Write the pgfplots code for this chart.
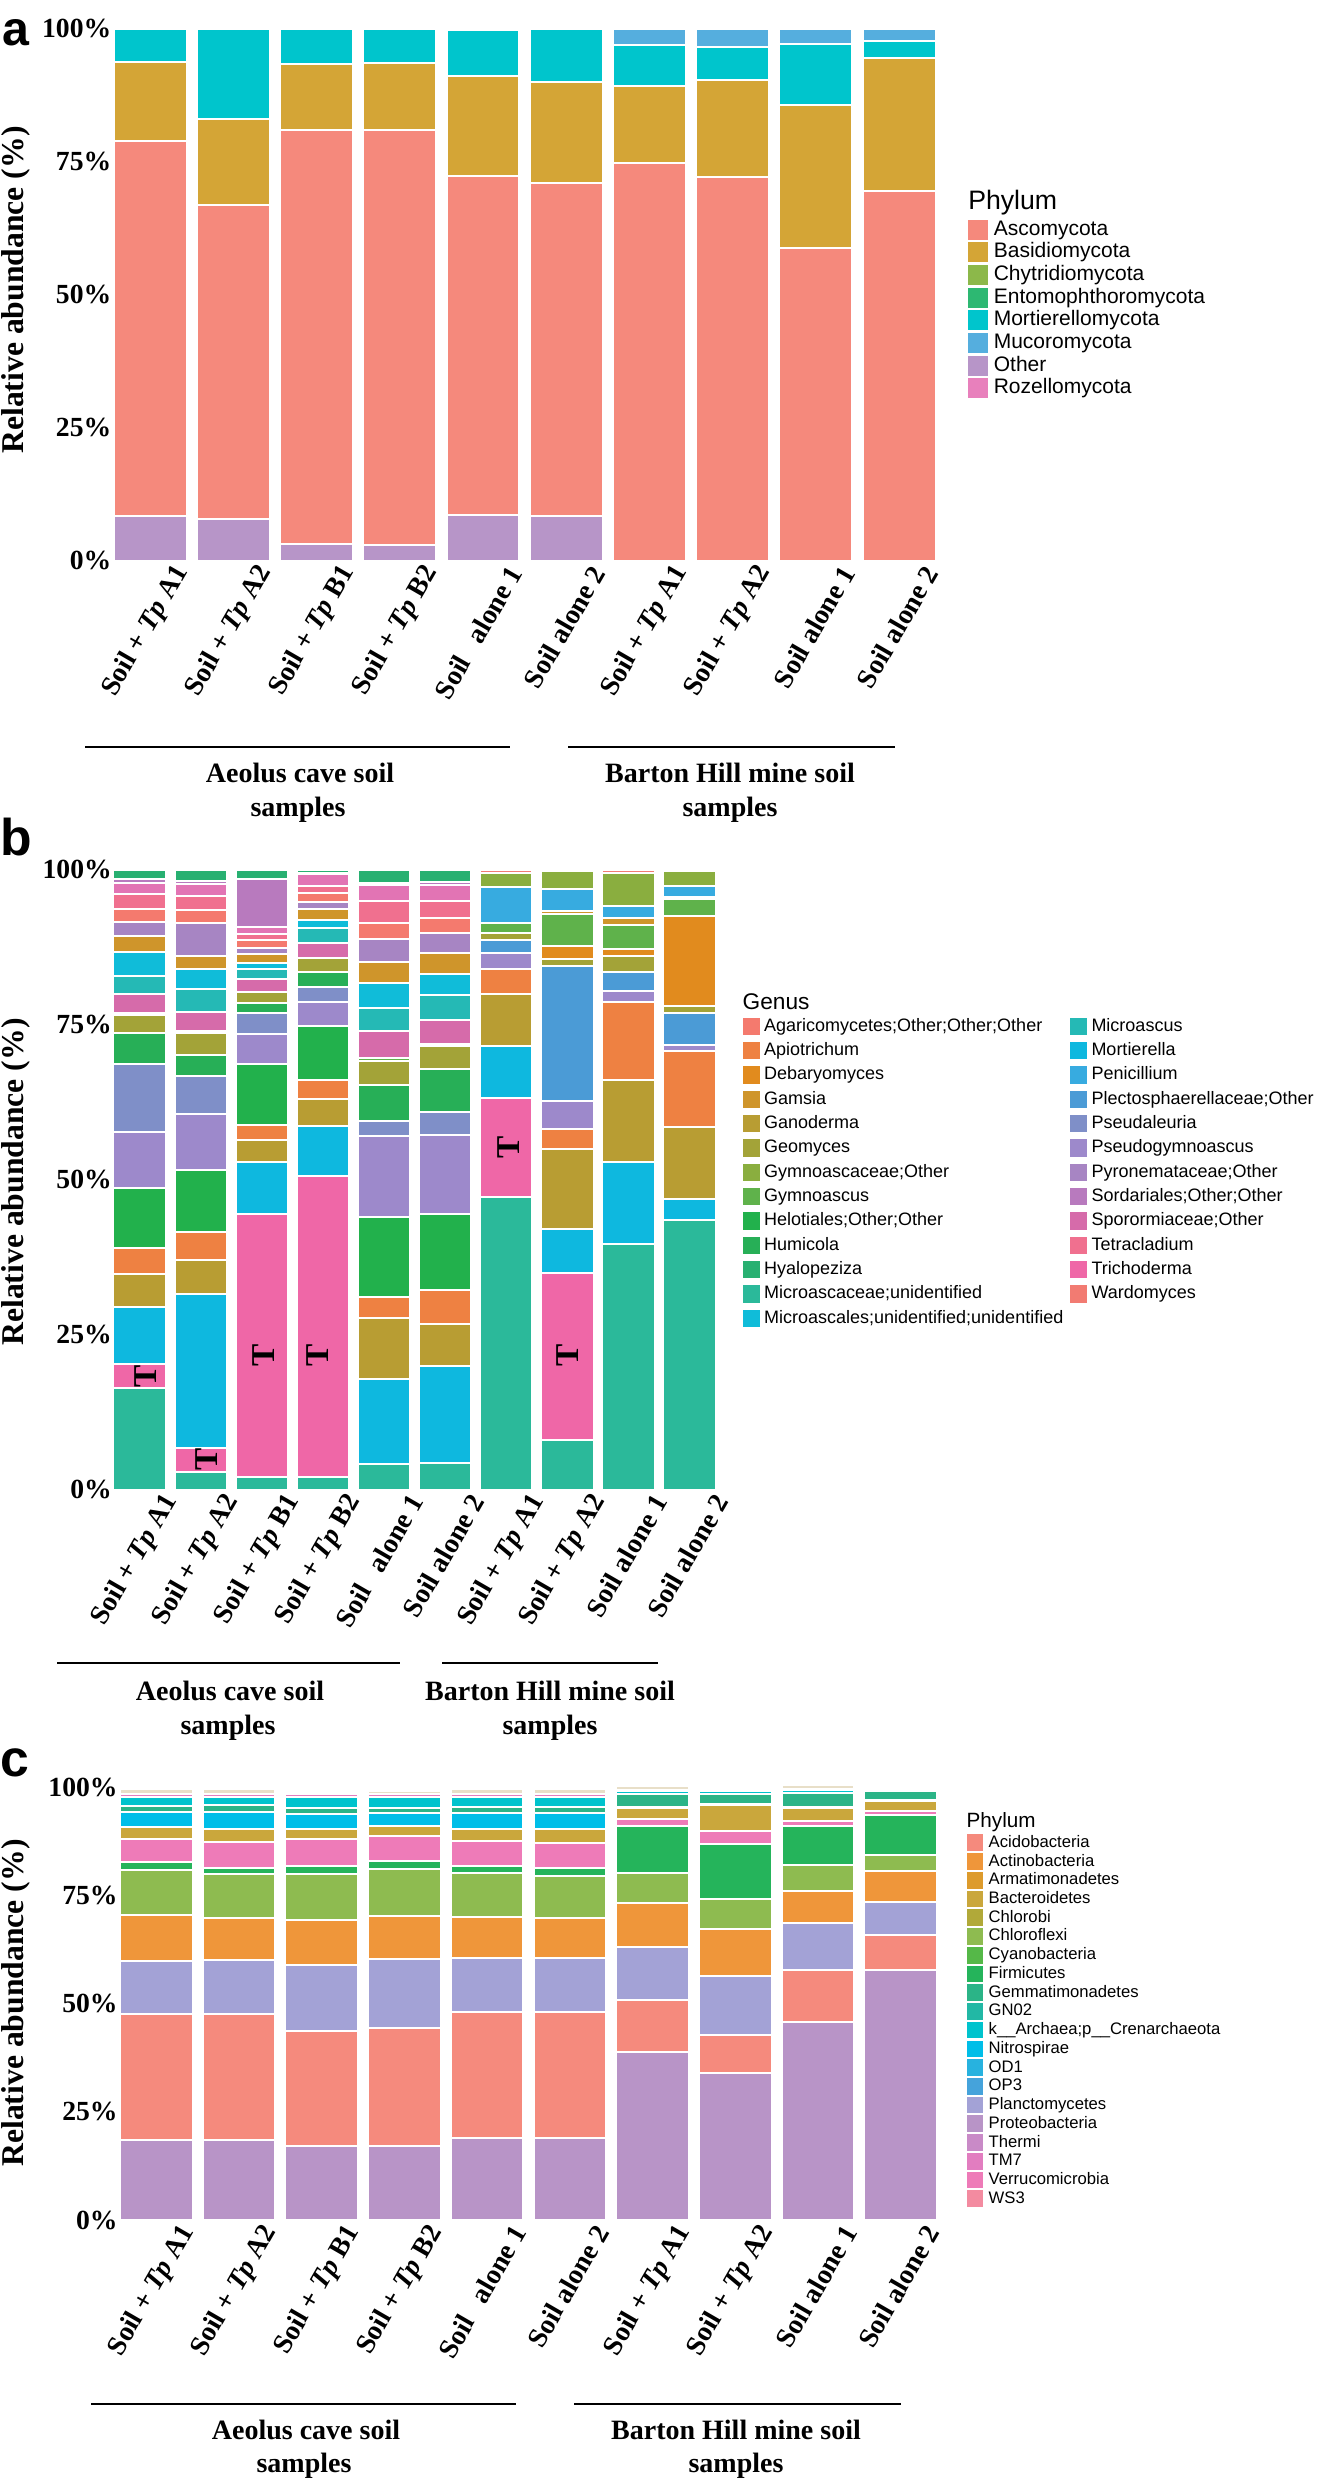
\documentclass[border=0pt]{standalone}
\usepackage{pgfplots}
\pgfplotsset{compat=1.18}
\usepackage{pgfplotstable}
\usepackage{fontspec}
\setmainfont{Liberation Serif}
\newfontfamily\sansf{Liberation Sans}

% panel a colours
\definecolor{aAsc}{HTML}{F5897C}
\definecolor{aBas}{HTML}{D4A536}
\definecolor{aChy}{HTML}{8CB84A}
\definecolor{aEnt}{HTML}{2DB872}
\definecolor{aMor}{HTML}{00C5CC}
\definecolor{aMuc}{HTML}{55AEDE}
\definecolor{aOth}{HTML}{B795C8}
\definecolor{aRoz}{HTML}{E880BC}
% panel b colours (stack order, bottom to top)
\definecolor{bc1}{HTML}{2BB99A}
\definecolor{bc2}{HTML}{EF67A7}
\definecolor{bc3}{HTML}{0EB8DF}
\definecolor{bc4}{HTML}{B89D33}
\definecolor{bc5}{HTML}{EE8142}
\definecolor{bc6}{HTML}{22B14C}
\definecolor{bc7}{HTML}{9D89CB}
\definecolor{bc8}{HTML}{4B9BD6}
\definecolor{bc9}{HTML}{7F8FC8}
\definecolor{bc10}{HTML}{27AF57}
\definecolor{bc11}{HTML}{A3A338}
\definecolor{bc12}{HTML}{E18B1E}
\definecolor{bc13}{HTML}{5FB24B}
\definecolor{bc14}{HTML}{D66BAA}
\definecolor{bc15}{HTML}{25B9B5}
\definecolor{bc16}{HTML}{10BCD9}
\definecolor{bc17}{HTML}{CF952B}
\definecolor{bc18}{HTML}{37ABE0}
\definecolor{bc19}{HTML}{A785C3}
\definecolor{bc20}{HTML}{F47A6E}
\definecolor{bc21}{HTML}{F0708F}
\definecolor{bc22}{HTML}{E274B4}
\definecolor{bc23}{HTML}{B87ABE}
\definecolor{bc24}{HTML}{8AAE3F}
\definecolor{bc25}{HTML}{28B071}
\definecolor{bc26}{HTML}{F27B72}
% panel c colours
\definecolor{cAcido}{HTML}{F58A7D}
\definecolor{cActino}{HTML}{EF963A}
\definecolor{cArma}{HTML}{DD9B2C}
\definecolor{cBacte}{HTML}{CAA73C}
\definecolor{cChlorobi}{HTML}{B1A939}
\definecolor{cChloro}{HTML}{8EBB50}
\definecolor{cCyano}{HTML}{55B848}
\definecolor{cFirmi}{HTML}{25B45B}
\definecolor{cGemma}{HTML}{2BB487}
\definecolor{cGN}{HTML}{22B8A5}
\definecolor{cArch}{HTML}{00C3CD}
\definecolor{cNitro}{HTML}{00BEE8}
\definecolor{cOD}{HTML}{27B2DF}
\definecolor{cOP}{HTML}{45A3DB}
\definecolor{cPlanc}{HTML}{A3A2D6}
\definecolor{cProteo}{HTML}{B894C7}
\definecolor{cThermi}{HTML}{C98AC7}
\definecolor{cTM}{HTML}{E27DC0}
\definecolor{cVerru}{HTML}{EE7BB8}
\definecolor{cWS}{HTML}{F38BA0}
\definecolor{cPale}{HTML}{E8DFC8}

% ---------- data ----------
% panel a: Other, Ascomycota, Basidiomycota, Mortierellomycota, Mucoromycota
\pgfplotstableread{
x Oth Asc Bas Mor Muc
0 8.4 70.5 14.8 6.3 0
1 7.9 58.9 16.2 17.0 0
2 3.2 77.8 12.3 6.7 0
3 2.9 78.0 12.7 6.4 0
4 8.6 63.7 18.9 8.6 0
5 8.3 62.7 19.0 9.9 0
6 0 74.8 14.5 7.7 3.0
7 0 72.1 18.3 6.1 3.5
8 0 58.8 26.9 11.5 2.8
9 0 69.4 25.0 3.3 2.3
}\tabA

% panel b: genera, stacked bottom to top
\pgfplotstableread{
x s1 s2 s3 s4 s5 s6 s7 s8 s9 s10 s11 s12 s13 s14 s15 s16 s17 s18 s19 s20 s21 s22 s23 s24 s25 s26
0 16.4 3.8 9.2 5.4 4.1 9.8 9.0 0 11.0 5.0 2.8 0 0.3 3.2 2.9 3.8 2.6 0 2.2 2.1 2.5 1.7 0.6 0 1.5 0
1 2.9 3.8 24.9 5.5 4.4 10.1 9.0 0 6.1 3.4 3.5 0 0.3 3.1 3.7 3.2 2.2 0 5.3 2.1 2.3 1.9 0.5 0 1.7 0
2 2.0 42.4 8.5 3.4 2.5 9.8 4.8 0 3.5 1.5 1.9 0 0 2.0 1.6 1.0 1.4 0 1.0 1.3 1.0 1.1 7.8 0 1.4 0
3 2.0 48.5 8.1 4.4 3.0 8.7 4.0 0 2.4 2.4 2.2 0 0 2.5 2.4 1.2 1.8 0 1.2 1.4 1.1 1.9 0.3 0 0.4 0
4 4.1 0 13.8 9.8 3.4 12.9 13.0 0 2.5 5.8 3.8 0 0.5 4.3 3.8 4.0 3.4 0 3.7 2.6 3.5 2.6 0.4 0 2.0 0
5 4.3 0 15.7 6.7 5.5 12.2 12.8 0 3.7 6.9 3.8 0 0.3 3.9 4.0 3.3 3.5 0 3.2 2.4 2.8 2.5 0.5 0 1.9 0
6 47.1 16.0 8.4 8.4 4.1 0 2.5 2.2 0 0 1.1 0 1.6 0 0 0 0 5.8 0 0 0 0 0 2.2 0 0.5
7 8.0 27.0 7.1 12.9 3.2 0 4.4 21.8 0 0 1.2 2.1 5.1 0 0 0 0.5 3.6 0 0 0 0 0 2.8 0 0
8 39.6 0 13.2 13.3 12.5 0 1.8 3.1 0 0 2.6 1.1 3.8 0 0 0 1.1 2.0 0 0 0 0 0 5.3 0 0.5
9 43.5 0 3.4 11.6 12.2 0 1.0 5.1 0 0 1.2 14.5 2.7 0 0 0 0.4 1.7 0 0 0 0 0 2.4 0 0
}\tabB

% panel c: Proteo, Acido, Planc, Actino, Chloroflexi, Firmicutes, Verruco, Bacteroidetes, Nitrospirae, Gemmati, Archaea, TM7, minor
\pgfplotstableread{
x c1 c2 c3 c4 c5 c6 c7 c8 c9 c10 c11 c12 c13
0 18.5 29.0 12.3 10.7 10.3 1.8 5.3 2.8 3.6 1.4 2.0 0.6 1.2
1 18.5 29.0 12.5 9.7 10.2 1.5 5.9 3.1 3.9 1.5 1.9 0.6 1.2
2 17.0 26.7 15.2 10.4 10.6 1.9 6.1 2.5 3.3 1.4 2.6 0.6 0.6
3 17.0 27.3 15.9 10.1 10.8 1.8 5.7 2.5 2.8 1.3 2.5 0.7 0.7
4 19.0 29.1 12.5 9.3 10.3 1.6 5.7 2.9 3.7 1.4 2.1 0.7 1.2
5 19.0 29.1 12.5 9.1 9.8 1.7 5.9 3.1 3.7 1.6 2.1 0.7 1.2
6 38.9 11.9 12.2 10.3 6.8 11.0 1.6 2.4 0.2 3.0 0.7 0.3 1.0
7 33.9 8.9 13.6 10.9 6.8 12.8 2.9 6.0 0.2 2.5 0.6 0.4 0.5
8 45.8 11.9 10.9 7.5 5.9 8.9 1.3 3.0 0.2 3.2 0.6 0.4 0.8
9 57.7 8.2 7.6 7.0 3.8 9.3 0.9 2.2 0.2 2.2 0.4 0.2 0.1
}\tabC

\pgfplotsset{
  seg/.style={draw=white, line width=0.6pt},
  common/.style={
    scale only axis, ybar stacked, clip=false,
    xmin=-0.5, xmax=9.5, ymin=0, ymax=100,
    axis line style={draw=none}, major tick length=0pt, tick style={draw=none},
    ytick={0,25,50,75,100}, yticklabels={0\%,25\%,50\%,75\%,100\%},
    yticklabel style={font=\bfseries\fontsize{8.3}{9}\selectfont, inner sep=0pt, anchor=east, xshift=1pt},
    xtick={0,...,9},
    xticklabels={Soil + \textit{Tp} A1, Soil + \textit{Tp} A2, Soil + \textit{Tp} B1, Soil + \textit{Tp} B2, Soil\hspace{0.7em}alone 1, Soil alone 2, Soil + \textit{Tp} A1, Soil + \textit{Tp} A2, Soil alone 1, Soil alone 2},
    xticklabel style={font=\bfseries\fontsize{8.3}{10}\selectfont, rotate=60, anchor=east, inner sep=0pt, xshift=3pt, yshift=-9.5pt},
    legend cell align=left,
  },
}

\begin{document}
\begin{tikzpicture}
\path[use as bounding box] (0pt,0pt) rectangle (396.9pt,-744.3pt);

% ================= panel a =================
\begin{axis}[common, at={(32.58pt,-8.61pt)}, anchor=north west,
  width=249.6pt, height=159.57pt, bar width=0.877,
  legend image code/.code={\fill[#1,draw=none] (0pt,-3pt) rectangle (6pt,3pt);},
  legend style={at={(1.0325,0.643)}, anchor=north west, draw=none, fill=none,
    inner sep=0pt, row sep=0.6pt, column sep=1.65pt,
    font=\sansf\fontsize{6.3}{7}\selectfont,
    nodes={inner sep=0pt, text height=4.8pt, text depth=1.4pt}},
]
\addlegendimage{fill=aAsc}\addlegendentry{Ascomycota}
\addlegendimage{fill=aBas}\addlegendentry{Basidiomycota}
\addlegendimage{fill=aChy}\addlegendentry{Chytridiomycota}
\addlegendimage{fill=aEnt}\addlegendentry{Entomophthoromycota}
\addlegendimage{fill=aMor}\addlegendentry{Mortierellomycota}
\addlegendimage{fill=aMuc}\addlegendentry{Mucoromycota}
\addlegendimage{fill=aOth}\addlegendentry{Other}
\addlegendimage{fill=aRoz}\addlegendentry{Rozellomycota}
\addplot[seg, fill=aOth] table[x=x,y=Oth]{\tabA};
\addplot[seg, fill=aAsc] table[x=x,y=Asc]{\tabA};
\addplot[seg, fill=aBas] table[x=x,y=Bas]{\tabA};
\addplot[seg, fill=aMor] table[x=x,y=Mor]{\tabA};
\addplot[seg, fill=aMuc] table[x=x,y=Muc]{\tabA};
\end{axis}

% ================= panel b =================
\begin{axis}[common, at={(32.73pt,-260.85pt)}, anchor=north west,
  width=183.3pt, height=186pt, bar width=0.856,
  legend columns=2,
  legend image code/.code={\fill[#1,draw=none] (0pt,-2.6pt) rectangle (5.1pt,2.6pt);},
  legend style={at={(1.0358,0.762)}, anchor=north west, draw=none, fill=none,
    inner sep=0pt, row sep=2.1pt, column sep=1.35pt,
    /tikz/every even column/.append style={column sep=2pt},
    font=\sansf\fontsize{5.4}{6}\selectfont,
    nodes={inner sep=0pt, text height=4.0pt, text depth=1.2pt}},
]
\addlegendimage{fill=bc20}\addlegendentry{Agaricomycetes;Other;Other;Other}
\addlegendimage{fill=bc15}\addlegendentry{Microascus}
\addlegendimage{fill=bc5}\addlegendentry{Apiotrichum}
\addlegendimage{fill=bc3}\addlegendentry{Mortierella}
\addlegendimage{fill=bc12}\addlegendentry{Debaryomyces}
\addlegendimage{fill=bc18}\addlegendentry{Penicillium}
\addlegendimage{fill=bc17}\addlegendentry{Gamsia}
\addlegendimage{fill=bc8}\addlegendentry{Plectosphaerellaceae;Other}
\addlegendimage{fill=bc4}\addlegendentry{Ganoderma}
\addlegendimage{fill=bc9}\addlegendentry{Pseudaleuria}
\addlegendimage{fill=bc11}\addlegendentry{Geomyces}
\addlegendimage{fill=bc7}\addlegendentry{Pseudogymnoascus}
\addlegendimage{fill=bc24}\addlegendentry{Gymnoascaceae;Other}
\addlegendimage{fill=bc19}\addlegendentry{Pyronemataceae;Other}
\addlegendimage{fill=bc13}\addlegendentry{Gymnoascus}
\addlegendimage{fill=bc23}\addlegendentry{Sordariales;Other;Other}
\addlegendimage{fill=bc6}\addlegendentry{Helotiales;Other;Other}
\addlegendimage{fill=bc14}\addlegendentry{Sporormiaceae;Other}
\addlegendimage{fill=bc10}\addlegendentry{Humicola}
\addlegendimage{fill=bc21}\addlegendentry{Tetracladium}
\addlegendimage{fill=bc25}\addlegendentry{Hyalopeziza}
\addlegendimage{fill=bc2}\addlegendentry{Trichoderma}
\addlegendimage{fill=bc1}\addlegendentry{Microascaceae;unidentified}
\addlegendimage{fill=bc26}\addlegendentry{Wardomyces}
\addlegendimage{fill=bc16}\addlegendentry{Microascales;unidentified;unidentified}
\pgfplotsinvokeforeach{1,...,26}{
  \addplot[seg, fill=bc#1] table[x=x,y=s#1]{\tabB};
}
\coordinate (T1) at (axis cs:0.09,18.3);
\coordinate (T2) at (axis cs:1.1,4.8);
\coordinate (T3) at (axis cs:2.03,21.7);
\coordinate (T4) at (axis cs:2.92,21.7);
\coordinate (T5) at (axis cs:6.03,55.2);
\coordinate (T6) at (axis cs:7.0,21.7);
\end{axis}
\foreach \t in {T1,T2,T3,T4,T5,T6}{
  \node[rotate=90, inner sep=0pt, font=\bfseries\fontsize{10}{10}\selectfont] at (\t) {T};
}

% ================= panel c =================
\begin{axis}[common, at={(34.49pt,-536.1pt)}, anchor=north west,
  width=248.1pt, height=129.9pt, bar width=0.878,
  legend image code/.code={\fill[#1,draw=none] (0pt,-2.5pt) rectangle (5pt,2.5pt);},
  legend style={at={(1.0291,0.892)}, anchor=north west, draw=none, fill=none,
    inner sep=0pt, row sep=0.62pt, column sep=1.6pt,
    font=\sansf\fontsize{5}{6}\selectfont,
    nodes={inner sep=0pt, text height=3.8pt, text depth=1.1pt}},
]
\addlegendimage{fill=cAcido}\addlegendentry{Acidobacteria}
\addlegendimage{fill=cActino}\addlegendentry{Actinobacteria}
\addlegendimage{fill=cArma}\addlegendentry{Armatimonadetes}
\addlegendimage{fill=cBacte}\addlegendentry{Bacteroidetes}
\addlegendimage{fill=cChlorobi}\addlegendentry{Chlorobi}
\addlegendimage{fill=cChloro}\addlegendentry{Chloroflexi}
\addlegendimage{fill=cCyano}\addlegendentry{Cyanobacteria}
\addlegendimage{fill=cFirmi}\addlegendentry{Firmicutes}
\addlegendimage{fill=cGemma}\addlegendentry{Gemmatimonadetes}
\addlegendimage{fill=cGN}\addlegendentry{GN02}
\addlegendimage{fill=cArch}\addlegendentry{k\_\_Archaea;p\_\_Crenarchaeota}
\addlegendimage{fill=cNitro}\addlegendentry{Nitrospirae}
\addlegendimage{fill=cOD}\addlegendentry{OD1}
\addlegendimage{fill=cOP}\addlegendentry{OP3}
\addlegendimage{fill=cPlanc}\addlegendentry{Planctomycetes}
\addlegendimage{fill=cProteo}\addlegendentry{Proteobacteria}
\addlegendimage{fill=cThermi}\addlegendentry{Thermi}
\addlegendimage{fill=cTM}\addlegendentry{TM7}
\addlegendimage{fill=cVerru}\addlegendentry{Verrucomicrobia}
\addlegendimage{fill=cWS}\addlegendentry{WS3}
\addplot[seg, fill=cProteo] table[x=x,y=c1]{\tabC};
\addplot[seg, fill=cAcido] table[x=x,y=c2]{\tabC};
\addplot[seg, fill=cPlanc] table[x=x,y=c3]{\tabC};
\addplot[seg, fill=cActino] table[x=x,y=c4]{\tabC};
\addplot[seg, fill=cChloro] table[x=x,y=c5]{\tabC};
\addplot[seg, fill=cFirmi] table[x=x,y=c6]{\tabC};
\addplot[seg, fill=cVerru] table[x=x,y=c7]{\tabC};
\addplot[seg, fill=cBacte] table[x=x,y=c8]{\tabC};
\addplot[seg, fill=cNitro] table[x=x,y=c9]{\tabC};
\addplot[seg, fill=cGemma] table[x=x,y=c10]{\tabC};
\addplot[seg, fill=cArch] table[x=x,y=c11]{\tabC};
\addplot[seg, fill=cTM] table[x=x,y=c12]{\tabC};
\addplot[seg, fill=cPale] table[x=x,y=c13]{\tabC};
\end{axis}

% ================= annotations (pixel units) =================
\begin{scope}[x=0.3pt,y=-0.3pt]
\tikzset{pl/.style={anchor=base west, inner sep=0pt, font=\sansf\bfseries\fontsize{15.5}{16}\selectfont},
  yl/.style={rotate=90, inner sep=0pt, font=\bfseries\fontsize{9.5}{10}\selectfont},
  gt/.style={anchor=base, inner sep=0pt, font=\bfseries\fontsize{8.4}{10}\selectfont},
  lt/.style={anchor=west, inner sep=0pt}}
\node[anchor=base west, inner sep=0pt, font=\sansf\bfseries\fontsize{14.5}{15}\selectfont] at (2,45) {a};
\node[pl] at (0,855) {b};
\node[pl] at (0,1776) {c};
\node[yl] at (16,290) {Relative abundance (\%)};
\node[yl] at (16,1182) {Relative abundance (\%)};
\node[yl] at (16,2003) {Relative abundance (\%)};
% group lines and labels
\draw[line width=0.8pt] (85,747) -- (510,747);
\draw[line width=0.8pt] (568,747) -- (895,747);
\node[gt] at (300,782) {Aeolus cave soil};
\node[gt] at (298,816) {samples};
\node[gt] at (730,782) {Barton Hill mine soil};
\node[gt] at (730,816) {samples};
\draw[line width=0.8pt] (57,1663) -- (400,1663);
\draw[line width=0.8pt] (442,1663) -- (658,1663);
\node[gt] at (230,1700) {Aeolus cave soil};
\node[gt] at (228,1734) {samples};
\node[gt] at (550,1700) {Barton Hill mine soil};
\node[gt] at (550,1734) {samples};
\draw[line width=0.8pt] (91,2404) -- (516,2404);
\draw[line width=0.8pt] (574,2404) -- (901,2404);
\node[gt] at (306,2439) {Aeolus cave soil};
\node[gt] at (304,2472) {samples};
\node[gt] at (736,2439) {Barton Hill mine soil};
\node[gt] at (736,2472) {samples};
% legend titles
\node[lt, font=\sansf\fontsize{8}{9}\selectfont] at (967.6,203) {Phylum};
\node[lt, font=\sansf\fontsize{6.8}{8}\selectfont] at (742,1002) {Genus};
\node[lt, font=\sansf\fontsize{6.2}{7}\selectfont] at (966,1822) {Phylum};
\end{scope}
\end{tikzpicture}
\end{document}
